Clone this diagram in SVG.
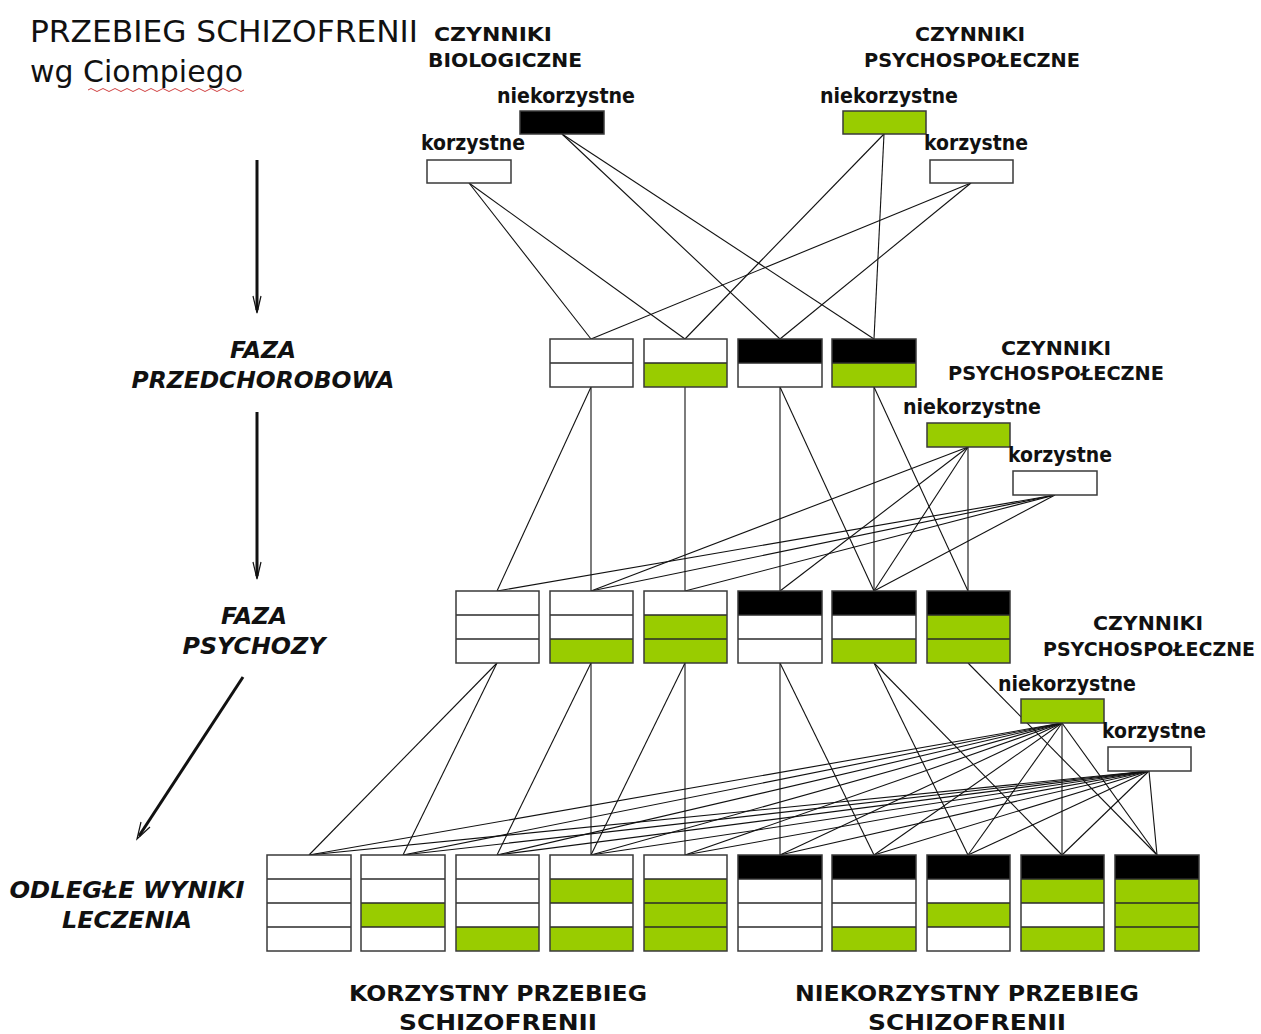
<svg xmlns="http://www.w3.org/2000/svg" width="1261" height="1034" viewBox="0 0 1261 1034">
<defs>
<style>
.w{fill:#ffffff}.g{fill:#99cc00}.k{fill:#000000}
.bd{fill:none;stroke:#3a3a3a;stroke-width:1.5}
.sep{stroke:#2a2a2a;stroke-width:1.5}
.cn line{stroke:#111111;stroke-width:1.1}
.t{font-family:"DejaVu Sans","Liberation Sans",sans-serif;fill:#111}
.h{font-weight:bold;font-size:20px;text-anchor:middle}
.f{font-weight:bold;font-size:21px;text-anchor:middle}
.ph{font-weight:bold;font-style:italic;font-size:23px;text-anchor:middle}
.bt{font-weight:bold;font-size:22px;text-anchor:middle}
.arr{stroke:#111;stroke-width:3;fill:none}
.ah{stroke:#111;stroke-width:1.2;fill:none}
</style>
</defs>
<rect width="1261" height="1034" fill="#ffffff"/>

<g id="title">
<text class="t" x="30" y="42" font-size="31" textLength="388" lengthAdjust="spacingAndGlyphs">PRZEBIEG SCHIZOFRENII</text>
<text class="t" x="30" y="82" font-size="31" textLength="213" lengthAdjust="spacingAndGlyphs">wg Ciompiego</text>
<path d="M88 90 q3 -3 6 0 t6 0 t6 0 t6 0 t6 0 t6 0 t6 0 t6 0 t6 0 t6 0 t6 0 t6 0 t6 0 t6 0 t6 0 t6 0 t6 0 t6 0 t6 0 t6 0 t6 0 t6 0 t6 0 t6 0 t6 0 t6 0" fill="none" stroke="#d04040" stroke-width="1"/>
</g>

<g id="headers">
<text class="t h" x="493" y="41" textLength="118" lengthAdjust="spacingAndGlyphs">CZYNNIKI</text>
<text class="t h" x="505" y="67" textLength="154" lengthAdjust="spacingAndGlyphs">BIOLOGICZNE</text>
<text class="t h" x="970" y="41" textLength="110" lengthAdjust="spacingAndGlyphs">CZYNNIKI</text>
<text class="t h" x="972" y="67" textLength="216" lengthAdjust="spacingAndGlyphs">PSYCHOSPOŁECZNE</text>
<text class="t h" x="1056" y="355" textLength="110" lengthAdjust="spacingAndGlyphs">CZYNNIKI</text>
<text class="t h" x="1056" y="380" textLength="216" lengthAdjust="spacingAndGlyphs">PSYCHOSPOŁECZNE</text>
<text class="t h" x="1148" y="630" textLength="110" lengthAdjust="spacingAndGlyphs">CZYNNIKI</text>
<text class="t" x="1043" y="656" font-size="19" font-weight="bold" textLength="212" lengthAdjust="spacingAndGlyphs">PSYCHOSPOŁECZNE</text>
</g>

<g id="phases">
<text class="t ph" x="263" y="358" textLength="66" lengthAdjust="spacingAndGlyphs">FAZA</text>
<text class="t ph" x="263" y="388" textLength="263" lengthAdjust="spacingAndGlyphs">PRZEDCHOROBOWA</text>
<text class="t ph" x="254" y="624" textLength="66" lengthAdjust="spacingAndGlyphs">FAZA</text>
<text class="t ph" x="254" y="654" textLength="143" lengthAdjust="spacingAndGlyphs">PSYCHOZY</text>
<text class="t ph" x="127" y="898" textLength="235" lengthAdjust="spacingAndGlyphs">ODLEGŁE WYNIKI</text>
<text class="t ph" x="127" y="928" textLength="130" lengthAdjust="spacingAndGlyphs">LECZENIA</text>
</g>

<g id="arrows">
<line class="arr" x1="257" y1="160" x2="257" y2="310"/>
<polyline class="ah" points="253,296 257,313 261,296"/>
<line class="arr" x1="257" y1="412" x2="257" y2="576"/>
<polyline class="ah" points="253,562 257,579 261,562"/>
<line class="arr" x1="243" y1="677" x2="139" y2="836"/>
<polyline class="ah" points="141,822 137,839 150,827"/>
</g>

<g id="connectors" class="cn">
<line x1="469" y1="183" x2="591" y2="339"/>
<line x1="469" y1="183" x2="685" y2="339"/>
<line x1="562" y1="134" x2="780" y2="339"/>
<line x1="562" y1="134" x2="874" y2="339"/>
<line x1="884" y1="134" x2="685" y2="339"/>
<line x1="884" y1="134" x2="874" y2="339"/>
<line x1="971" y1="183" x2="591" y2="339"/>
<line x1="971" y1="183" x2="780" y2="339"/>

<line x1="591" y1="387" x2="497" y2="591"/>
<line x1="591" y1="387" x2="591" y2="591"/>
<line x1="685" y1="387" x2="685" y2="591"/>
<line x1="780" y1="387" x2="780" y2="591"/>
<line x1="780" y1="387" x2="874" y2="591"/>
<line x1="874" y1="387" x2="874" y2="591"/>
<line x1="874" y1="387" x2="968" y2="591"/>
<line x1="968" y1="447" x2="591" y2="591"/>
<line x1="968" y1="447" x2="780" y2="591"/>
<line x1="968" y1="447" x2="874" y2="591"/>
<line x1="968" y1="447" x2="968" y2="591"/>
<line x1="1055" y1="495" x2="497" y2="591"/>
<line x1="1055" y1="495" x2="591" y2="591"/>
<line x1="1055" y1="495" x2="685" y2="591"/>
<line x1="1055" y1="495" x2="874" y2="591"/>

<line x1="497" y1="663" x2="309" y2="855"/>
<line x1="497" y1="663" x2="403" y2="855"/>
<line x1="591" y1="663" x2="497" y2="855"/>
<line x1="591" y1="663" x2="591" y2="855"/>
<line x1="685" y1="663" x2="591" y2="855"/>
<line x1="685" y1="663" x2="685" y2="855"/>
<line x1="780" y1="663" x2="780" y2="855"/>
<line x1="780" y1="663" x2="874" y2="855"/>
<line x1="874" y1="663" x2="968" y2="855"/>
<line x1="874" y1="663" x2="1062" y2="855"/>
<line x1="968" y1="663" x2="1157" y2="855"/>

<line x1="1062" y1="723" x2="309" y2="855"/>
<line x1="1062" y1="723" x2="403" y2="855"/>
<line x1="1062" y1="723" x2="497" y2="855"/>
<line x1="1062" y1="723" x2="591" y2="855"/>
<line x1="1062" y1="723" x2="685" y2="855"/>
<line x1="1062" y1="723" x2="780" y2="855"/>
<line x1="1062" y1="723" x2="874" y2="855"/>
<line x1="1062" y1="723" x2="968" y2="855"/>
<line x1="1062" y1="723" x2="1062" y2="855"/>
<line x1="1062" y1="723" x2="1157" y2="855"/>
<line x1="1149" y1="771" x2="309" y2="855"/>
<line x1="1149" y1="771" x2="403" y2="855"/>
<line x1="1149" y1="771" x2="497" y2="855"/>
<line x1="1149" y1="771" x2="591" y2="855"/>
<line x1="1149" y1="771" x2="685" y2="855"/>
<line x1="1149" y1="771" x2="780" y2="855"/>
<line x1="1149" y1="771" x2="874" y2="855"/>
<line x1="1149" y1="771" x2="968" y2="855"/>
<line x1="1149" y1="771" x2="1062" y2="855"/>
<line x1="1149" y1="771" x2="1157" y2="855"/>
</g>

<!-- factor boxes -->
<g id="bio-neg">
<text class="t f" x="566" y="103" textLength="138" lengthAdjust="spacingAndGlyphs">niekorzystne</text>
<rect class="k" x="520" y="111" width="84" height="23"/><rect class="bd" x="520" y="111" width="84" height="23"/>
</g>
<g id="bio-pos">
<text class="t f" x="473" y="150" textLength="104" lengthAdjust="spacingAndGlyphs">korzystne</text>
<rect class="w" x="427" y="160" width="84" height="23"/><rect class="bd" x="427" y="160" width="84" height="23"/>
</g>
<g id="psy1-neg">
<text class="t f" x="889" y="103" textLength="138" lengthAdjust="spacingAndGlyphs">niekorzystne</text>
<rect class="g" x="843" y="111" width="83" height="23"/><rect class="bd" x="843" y="111" width="83" height="23"/>
</g>
<g id="psy1-pos">
<text class="t f" x="976" y="150" textLength="104" lengthAdjust="spacingAndGlyphs">korzystne</text>
<rect class="w" x="930" y="160" width="83" height="23"/><rect class="bd" x="930" y="160" width="83" height="23"/>
</g>
<g id="psy2-neg">
<text class="t f" x="972" y="414" textLength="138" lengthAdjust="spacingAndGlyphs">niekorzystne</text>
<rect class="g" x="927" y="423" width="83" height="24"/><rect class="bd" x="927" y="423" width="83" height="24"/>
</g>
<g id="psy2-pos">
<text class="t f" x="1060" y="462" textLength="104" lengthAdjust="spacingAndGlyphs">korzystne</text>
<rect class="w" x="1013" y="471" width="84" height="24"/><rect class="bd" x="1013" y="471" width="84" height="24"/>
</g>
<g id="psy3-neg">
<text class="t f" x="1067" y="691" textLength="138" lengthAdjust="spacingAndGlyphs">niekorzystne</text>
<rect class="g" x="1021" y="699" width="83" height="24"/><rect class="bd" x="1021" y="699" width="83" height="24"/>
</g>
<g id="psy3-pos">
<text class="t f" x="1154" y="738" textLength="104" lengthAdjust="spacingAndGlyphs">korzystne</text>
<rect class="w" x="1108" y="747" width="83" height="24"/><rect class="bd" x="1108" y="747" width="83" height="24"/>
</g>

<!-- row 1: faza przedchorobowa -->
<g id="pre-1"><rect class="w" x="550" y="339" width="83" height="24"/><rect class="w" x="550" y="363" width="83" height="24"/><line class="sep" x1="550" y1="363" x2="633" y2="363"/><rect class="bd" x="550" y="339" width="83" height="48"/></g>
<g id="pre-2"><rect class="w" x="644" y="339" width="83" height="24"/><rect class="g" x="644" y="363" width="83" height="24"/><line class="sep" x1="644" y1="363" x2="727" y2="363"/><rect class="bd" x="644" y="339" width="83" height="48"/></g>
<g id="pre-3"><rect class="k" x="738" y="339" width="84" height="24"/><rect class="w" x="738" y="363" width="84" height="24"/><line class="sep" x1="738" y1="363" x2="822" y2="363"/><rect class="bd" x="738" y="339" width="84" height="48"/></g>
<g id="pre-4"><rect class="k" x="832" y="339" width="84" height="24"/><rect class="g" x="832" y="363" width="84" height="24"/><line class="sep" x1="832" y1="363" x2="916" y2="363"/><rect class="bd" x="832" y="339" width="84" height="48"/></g>

<!-- row 2: faza psychozy -->
<g id="psy-1"><rect class="w" x="456" y="591" width="83" height="24"/><rect class="w" x="456" y="615" width="83" height="24"/><rect class="w" x="456" y="639" width="83" height="24"/><line class="sep" x1="456" y1="615" x2="539" y2="615"/><line class="sep" x1="456" y1="639" x2="539" y2="639"/><rect class="bd" x="456" y="591" width="83" height="72"/></g>
<g id="psy-2"><rect class="w" x="550" y="591" width="83" height="24"/><rect class="w" x="550" y="615" width="83" height="24"/><rect class="g" x="550" y="639" width="83" height="24"/><line class="sep" x1="550" y1="615" x2="633" y2="615"/><line class="sep" x1="550" y1="639" x2="633" y2="639"/><rect class="bd" x="550" y="591" width="83" height="72"/></g>
<g id="psy-3"><rect class="w" x="644" y="591" width="83" height="24"/><rect class="g" x="644" y="615" width="83" height="24"/><rect class="g" x="644" y="639" width="83" height="24"/><line class="sep" x1="644" y1="615" x2="727" y2="615"/><line class="sep" x1="644" y1="639" x2="727" y2="639"/><rect class="bd" x="644" y="591" width="83" height="72"/></g>
<g id="psy-4"><rect class="k" x="738" y="591" width="84" height="24"/><rect class="w" x="738" y="615" width="84" height="24"/><rect class="w" x="738" y="639" width="84" height="24"/><line class="sep" x1="738" y1="615" x2="822" y2="615"/><line class="sep" x1="738" y1="639" x2="822" y2="639"/><rect class="bd" x="738" y="591" width="84" height="72"/></g>
<g id="psy-5"><rect class="k" x="832" y="591" width="84" height="24"/><rect class="w" x="832" y="615" width="84" height="24"/><rect class="g" x="832" y="639" width="84" height="24"/><line class="sep" x1="832" y1="615" x2="916" y2="615"/><line class="sep" x1="832" y1="639" x2="916" y2="639"/><rect class="bd" x="832" y="591" width="84" height="72"/></g>
<g id="psy-6"><rect class="k" x="927" y="591" width="83" height="24"/><rect class="g" x="927" y="615" width="83" height="24"/><rect class="g" x="927" y="639" width="83" height="24"/><line class="sep" x1="927" y1="615" x2="1010" y2="615"/><line class="sep" x1="927" y1="639" x2="1010" y2="639"/><rect class="bd" x="927" y="591" width="83" height="72"/></g>

<!-- row 3: odlegle wyniki leczenia -->
<g id="out-1"><rect class="w" x="267" y="855" width="84" height="96"/><line class="sep" x1="267" y1="879" x2="351" y2="879"/><line class="sep" x1="267" y1="903" x2="351" y2="903"/><line class="sep" x1="267" y1="927" x2="351" y2="927"/><rect class="bd" x="267" y="855" width="84" height="96"/></g>
<g id="out-2"><rect class="w" x="361" y="855" width="84" height="96"/><rect class="g" x="361" y="903" width="84" height="24"/><line class="sep" x1="361" y1="879" x2="445" y2="879"/><line class="sep" x1="361" y1="903" x2="445" y2="903"/><line class="sep" x1="361" y1="927" x2="445" y2="927"/><rect class="bd" x="361" y="855" width="84" height="96"/></g>
<g id="out-3"><rect class="w" x="456" y="855" width="83" height="96"/><rect class="g" x="456" y="927" width="83" height="24"/><line class="sep" x1="456" y1="879" x2="539" y2="879"/><line class="sep" x1="456" y1="903" x2="539" y2="903"/><line class="sep" x1="456" y1="927" x2="539" y2="927"/><rect class="bd" x="456" y="855" width="83" height="96"/></g>
<g id="out-4"><rect class="w" x="550" y="855" width="83" height="96"/><rect class="g" x="550" y="879" width="83" height="24"/><rect class="g" x="550" y="927" width="83" height="24"/><line class="sep" x1="550" y1="879" x2="633" y2="879"/><line class="sep" x1="550" y1="903" x2="633" y2="903"/><line class="sep" x1="550" y1="927" x2="633" y2="927"/><rect class="bd" x="550" y="855" width="83" height="96"/></g>
<g id="out-5"><rect class="w" x="644" y="855" width="83" height="96"/><rect class="g" x="644" y="879" width="83" height="72"/><line class="sep" x1="644" y1="879" x2="727" y2="879"/><line class="sep" x1="644" y1="903" x2="727" y2="903"/><line class="sep" x1="644" y1="927" x2="727" y2="927"/><rect class="bd" x="644" y="855" width="83" height="96"/></g>
<g id="out-6"><rect class="w" x="738" y="855" width="84" height="96"/><rect class="k" x="738" y="855" width="84" height="24"/><line class="sep" x1="738" y1="879" x2="822" y2="879"/><line class="sep" x1="738" y1="903" x2="822" y2="903"/><line class="sep" x1="738" y1="927" x2="822" y2="927"/><rect class="bd" x="738" y="855" width="84" height="96"/></g>
<g id="out-7"><rect class="w" x="832" y="855" width="84" height="96"/><rect class="k" x="832" y="855" width="84" height="24"/><rect class="g" x="832" y="927" width="84" height="24"/><line class="sep" x1="832" y1="879" x2="916" y2="879"/><line class="sep" x1="832" y1="903" x2="916" y2="903"/><line class="sep" x1="832" y1="927" x2="916" y2="927"/><rect class="bd" x="832" y="855" width="84" height="96"/></g>
<g id="out-8"><rect class="w" x="927" y="855" width="83" height="96"/><rect class="k" x="927" y="855" width="83" height="24"/><rect class="g" x="927" y="903" width="83" height="24"/><line class="sep" x1="927" y1="879" x2="1010" y2="879"/><line class="sep" x1="927" y1="903" x2="1010" y2="903"/><line class="sep" x1="927" y1="927" x2="1010" y2="927"/><rect class="bd" x="927" y="855" width="83" height="96"/></g>
<g id="out-9"><rect class="w" x="1021" y="855" width="83" height="96"/><rect class="k" x="1021" y="855" width="83" height="24"/><rect class="g" x="1021" y="879" width="83" height="24"/><rect class="g" x="1021" y="927" width="83" height="24"/><line class="sep" x1="1021" y1="879" x2="1104" y2="879"/><line class="sep" x1="1021" y1="903" x2="1104" y2="903"/><line class="sep" x1="1021" y1="927" x2="1104" y2="927"/><rect class="bd" x="1021" y="855" width="83" height="96"/></g>
<g id="out-10"><rect class="g" x="1115" y="855" width="84" height="96"/><rect class="k" x="1115" y="855" width="84" height="24"/><line class="sep" x1="1115" y1="879" x2="1199" y2="879"/><line class="sep" x1="1115" y1="903" x2="1199" y2="903"/><line class="sep" x1="1115" y1="927" x2="1199" y2="927"/><rect class="bd" x="1115" y="855" width="84" height="96"/></g>

<g id="course-labels">
<text class="t bt" x="498" y="1001" textLength="298" lengthAdjust="spacingAndGlyphs">KORZYSTNY PRZEBIEG</text>
<text class="t bt" x="498" y="1030" textLength="198" lengthAdjust="spacingAndGlyphs">SCHIZOFRENII</text>
<text class="t bt" x="967" y="1001" textLength="344" lengthAdjust="spacingAndGlyphs">NIEKORZYSTNY PRZEBIEG</text>
<text class="t bt" x="967" y="1030" textLength="198" lengthAdjust="spacingAndGlyphs">SCHIZOFRENII</text>
</g>
</svg>
